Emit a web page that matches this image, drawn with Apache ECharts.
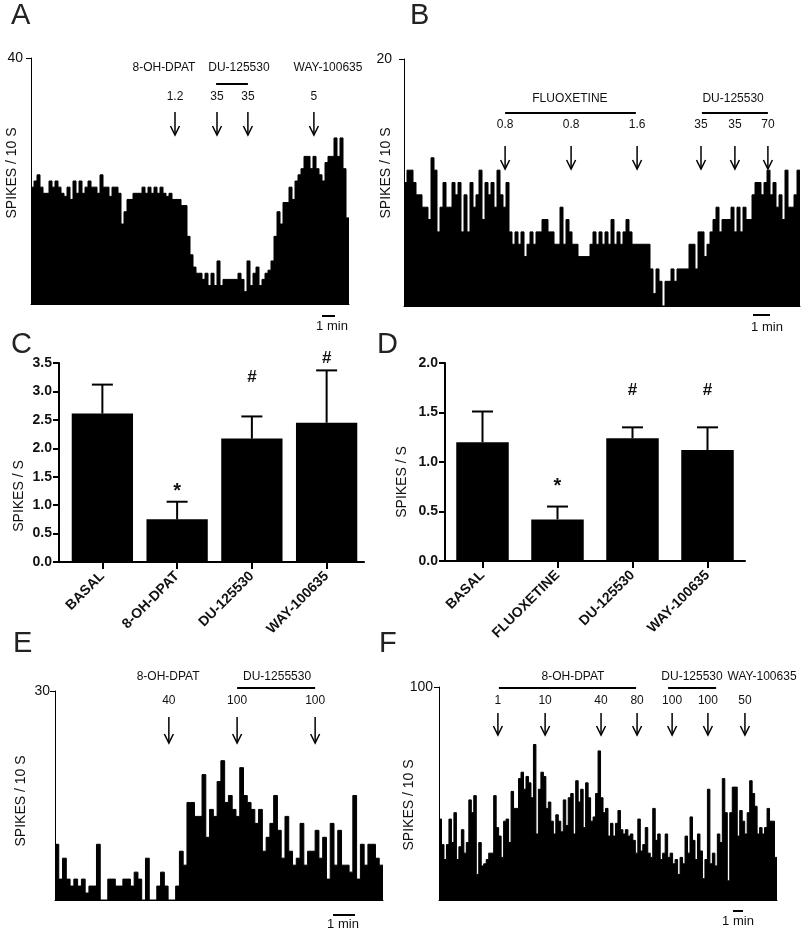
<!DOCTYPE html>
<html><head><meta charset="utf-8">
<script src="https://cdn.jsdelivr.net/npm/echarts@6/dist/echarts.min.js"></script>
<style>html,body{margin:0;padding:0;background:#fff}#c{width:806px;height:933px}</style>
</head><body><div id="c"></div>
<script>
// ---------- DATA ----------
// Panel A: spikes per 10 s bins
const spikesA = [19,20,21,19,18,18,20,19,20,19,18,17.5,19,17,20,18,20,18,19,20,
19,19,18,21,19,19,17.5,19,19,18,13,15,17,17,18,18,18,19,18,19,
18,19,18,19,18,17.5,18,17,17,17,16,16,11,8,6,5,5,4,5,3,
5,3,7,3,4,4,4,4,4,5,4,2,7,3,5,6,3,4,5,5.5,
7,11,15,13,16.5,16.5,19,17,20,21,22,24,24,22,24,22,21,20,23,24,
24,27,24,27,22,14];
const injTimesA = [48, 62, 72.3, 94.3];
const dosesA = ['1.2', '35', '35', '5'];
const drugNamesA = ['8-OH-DPAT', 'DU-125530', 'WAY-100635'];
const drugCentersA = [44.3, 69.3, 99];
const drugBarsA = [null, [61.7, 72.3], null];

// Panel B
const spikesB = [10,11,11,10,9,9,8,8,7,12,
11,6,8,10,8,8,10,9,10,6,
9,6,10,8,9,11,7,10,9,10,
8,11,9,8,10,6,5,6,5,6,
4,5,6,5,6,6,7,7,6,6,
5,5,8,5,7,6,5,5,4,4,
4,4,5,6,5,6,5,6,5,7,
5,6,5,6,7,6,5,5,5,5,
5,5,3,1,3,2,0,2,2,3,
2,3,3,3,3,5,5,3,6,6,
4,5,6,7,8,6,7,7,7,8,
6,8,6,8,7,7,9,10,10,9,
10,11,9,10,8,9,7,11,8,8,9,11];
const injTimesB = [33.7, 55.7, 77.7, 99, 110.3, 121.3];
const dosesB = ['0.8', '0.8', '1.6', '35', '35', '70'];
const drugNamesB = ['FLUOXETINE', 'DU-125530'];
const drugCentersB = [55.3, 109.7];
const drugBarsB = [[33.7, 77.3], [99.3, 121.3]];

// Panel C
const catsC = ['BASAL', '8-OH-DPAT', 'DU-125530', 'WAY-100635'];
const meanC = [2.61, 0.75, 2.17, 2.45];
const semC = [0.51, 0.31, 0.39, 0.92];
const sigC = ['', '*', '#', '#'];

// Panel D
const catsD = ['BASAL', 'FLUOXETINE', 'DU-125530', 'WAY-100635'];
const meanD = [1.20, 0.42, 1.24, 1.12];
const semD = [0.31, 0.13, 0.11, 0.23];
const sigD = ['', '*', '#', '#'];

// Panel E
const spikesE = [8,3,6,3,2,3,2,3,1,2,
2,8,0,0,3,3,2,2,3,3,
2,4,3,0,6,0,0,2,4,2,
0,0,2,7,5,14,14,12,12,18,
9,13,12,17,20,14,15,13,12,19,
15,14,13,11,13,7,9,11,15,10,
6,12,7,5,6,11,5,7,7,10,
6,9,3,11,5,10,5,5,4,15,
3,8,5,8,8,6,5];
const injTimesE = [30.2, 48.3, 69];
const dosesE = ['40', '100', '100'];
const drugNamesE = ['8-OH-DPAT', 'DU-1255530'];
const drugCentersE = [30, 58.9];
const drugBarsE = [null, [48.3, 69]];

// Panel F
const spikesF = [38,26,19,26,38,27,41,19,25,33,
22,27,47,41,49,12,27,16,17,19,
22,22,49,34,30,20,37,38,27,51,
43,43,57,60,52,58,55,48,73,31,
52,60,58,43,46,37,31,40,37,32,
47,35,48,50,31,56,46,52,34,55,
48,37,39,50,70,48,41,43,30,36,
30,36,42,33,31,33,30,31,28,22,
38,23,26,34,22,20,43,28,31,19,
22,31,20,22,17,19,12,20,17,30,
22,39,28,19,31,23,10,19,52,17,
22,16,31,27,57,41,9,41,53,53,
30,42,37,31,41,56,50,44,31,34,
31,34,43,37,37,20];
const injTimesF = [23.7, 42.7, 65.2, 79.7, 93.8, 108.2, 123.1];
const dosesF = ['1', '10', '40', '80', '100', '100', '50'];
const drugNamesF = ['8-OH-DPAT', 'DU-125530', 'WAY-100635'];
const drugCentersF = [53.9, 101.8, 130];
const drugBarsF = [[24.1, 79.3], [92.2, 111.5], null];

// ---------- LAYOUT ----------
const FONT = '"Liberation Sans", Arial, Helvetica, sans-serif';
const INK = '#111';

const hists = [
  {data: spikesA, max: 40, left: 31, top: 58, width: 318, height: 246, margin: 8,
   inj: injTimesA, doses: dosesA, names: drugNamesA, centers: drugCentersA, bars: drugBarsA,
   yName: 68, yBar: 84, yDose: 97, yArrTop: 112, yArrBot: 135,
   title: {x: 12, y: 173}, scale: {x1: 322, x2: 335, y: 316, tx: 332, ty: 326}},
  {data: spikesB, max: 20, left: 404, top: 59, width: 396, height: 247, margin: 12,
   inj: injTimesB, doses: dosesB, names: drugNamesB, centers: drugCentersB, bars: drugBarsB,
   yName: 99, yBar: 113, yDose: 125, yArrTop: 146, yArrBot: 169,
   title: {x: 386, y: 173}, scale: {x1: 753, x2: 770, y: 315, tx: 767, ty: 327}},
  {data: spikesE, max: 30, left: 55, top: 691, width: 328, height: 209, margin: 5,
   inj: injTimesE, doses: dosesE, names: drugNamesE, centers: drugCentersE, bars: drugBarsE,
   yName: 677, yBar: 688, yDose: 701, yArrTop: 717, yArrBot: 743,
   title: {x: 21, y: 801}, scale: {x1: 333, x2: 355, y: 915, tx: 343, ty: 924}},
  {data: spikesF, max: 100, left: 439, top: 687, width: 338, height: 213, margin: 6,
   inj: injTimesF, doses: dosesF, names: drugNamesF, centers: drugCentersF, bars: drugBarsF,
   yName: 677, yBar: 688, yDose: 701, yArrTop: 713, yArrBot: 735,
   title: {x: 409, y: 805}, scale: {x1: 733, x2: 743, y: 911, tx: 738, ty: 921}}
];

const barPanels = [
  {cats: catsC, mean: meanC, sem: semC, sig: sigC, max: 3.5, left: 65, top: 363, width: 299, height: 199,
   yOffset: 6, gap: '18%', sigY: [0, 491, 377, 358], title: {x: 19, y: 496}},
  {cats: catsD, mean: meanD, sem: semD, sig: sigD, max: 2.0, left: 445, top: 363, width: 300, height: 198,
   yOffset: 0, gap: '30%', sigY: [0, 486, 390, 390], title: {x: 402, y: 482}}
];

const letters = [
  {t: 'A', x: 11, y: 16}, {t: 'B', x: 410, y: 16},
  {t: 'C', x: 11, y: 345}, {t: 'D', x: 377, y: 345},
  {t: 'E', x: 13, y: 644}, {t: 'F', x: 379, y: 644}
];

// ---------- OPTION ----------
const grid = [], xAxis = [], yAxis = [], series = [];

hists.forEach((h, k) => {
  grid.push({left: h.left, top: h.top, width: h.width, height: h.height});
  xAxis.push({gridIndex: k, type: 'value', min: 0, max: h.data.length,
    axisLine: {show: true, onZero: false, lineStyle: {color: '#000', width: 1}},
    axisTick: {show: false}, axisLabel: {show: false}, splitLine: {show: false}});
  yAxis.push({gridIndex: k, type: 'value', min: 0, max: h.max, interval: h.max,
    axisLine: {show: true, lineStyle: {color: '#000', width: 1}},
    axisTick: {show: true, length: 5, lineStyle: {color: '#000'}, customValues: [h.max]},
    axisLabel: {customValues: [h.max], formatter: v => (v === h.max ? String(h.max) : ''),
      fontSize: 14, color: INK, fontFamily: FONT, margin: h.margin},
    splitLine: {show: false}});
  const pts = h.data.map((v, i) => [i, v]);
  pts.push([h.data.length, h.data[h.data.length - 1]]);
  series.push({type: 'line', xAxisIndex: k, yAxisIndex: k, data: pts, step: 'end',
    symbol: 'none', silent: true, animation: false,
    lineStyle: {color: '#000', width: 1}, areaStyle: {color: '#000', opacity: 1}});
});

barPanels.forEach((p, j) => {
  const k = hists.length + j;
  grid.push({left: p.left, top: p.top, width: p.width, height: p.height});
  xAxis.push({gridIndex: k, type: 'category', data: p.cats,
    axisLine: {show: true, lineStyle: {color: '#000', width: 2}},
    axisTick: {show: true, alignWithLabel: true, length: 7, lineStyle: {color: '#000', width: 2}},
    axisLabel: {rotate: 45, interval: 0, fontSize: 14, fontWeight: 'bold', color: INK,
      fontFamily: FONT, margin: 12}});
  yAxis.push({gridIndex: k, type: 'value', min: 0, max: p.max, interval: 0.5, offset: p.yOffset,
    axisLine: {show: true, lineStyle: {color: '#000', width: 2}},
    axisTick: {show: true, length: 6, lineStyle: {color: '#000', width: 2}},
    axisLabel: {formatter: v => v.toFixed(1), fontSize: 14, fontWeight: 'bold', color: INK,
      fontFamily: FONT, margin: 7},
    splitLine: {show: false}});
  series.push({type: 'bar', xAxisIndex: k, yAxisIndex: k, data: p.mean,
    barCategoryGap: p.gap, itemStyle: {color: '#000'}, animation: false});
  series.push({type: 'custom', xAxisIndex: k, yAxisIndex: k, animation: false, z: 5,
    data: p.mean.map((m, i) => [i, m, p.sem[i]]),
    renderItem: (params, api) => {
      const b = api.coord([api.value(0), api.value(1)]);
      const t = api.coord([api.value(0), api.value(1) + api.value(2)]);
      const hw = 10.5;
      return {type: 'group', children: [
        {type: 'line', shape: {x1: b[0], y1: b[1], x2: t[0], y2: t[1]}, style: {stroke: '#000', lineWidth: 2}},
        {type: 'line', shape: {x1: t[0] - hw, y1: t[1], x2: t[0] + hw, y2: t[1]}, style: {stroke: '#000', lineWidth: 2}}
      ]};
    }});
});

const chart = echarts.init(document.getElementById('c'), null, {renderer: 'canvas'});
chart.setOption({animation: false, backgroundColor: '#fff', grid, xAxis, yAxis, series});

// ---------- ANNOTATIONS ----------
const g = [];
function txt(text, x, y, size, opts) {
  g.push(Object.assign({type: 'text', x, y, silent: true, z: 10,
    style: Object.assign({text, fill: INK, fontSize: size, fontFamily: FONT,
      align: 'center', verticalAlign: 'middle'}, opts || {})}));
}
function ln(x1, y1, x2, y2, w) {
  g.push({type: 'line', silent: true, z: 10, shape: {x1, y1, x2, y2}, style: {stroke: '#000', lineWidth: w || 1.5}});
}
function arrow(x, y1, y2) {
  ln(x, y1, x, y2, 1.5);
  g.push({type: 'polyline', silent: true, z: 10,
    shape: {points: [[x - 4.5, y2 - 9], [x, y2], [x + 4.5, y2 - 9]]},
    style: {stroke: '#000', lineWidth: 1.5, fill: null}});
}

hists.forEach((h, k) => {
  const X = v => chart.convertToPixel({xAxisIndex: k}, v);
  h.inj.forEach((t, i) => {
    const x = X(t);
    txt(h.doses[i], x, h.yDose, 12);
    arrow(x, h.yArrTop, h.yArrBot);
  });
  h.names.forEach((n, i) => {
    txt(n, X(h.centers[i]), h.yName, 12);
    if (h.bars[i]) ln(X(h.bars[i][0]), h.yBar, X(h.bars[i][1]), h.yBar, 2);
  });
  txt('SPIKES / 10 S', h.title.x, h.title.y, 14, {});
  g[g.length - 1].rotation = Math.PI / 2;
  ln(h.scale.x1, h.scale.y, h.scale.x2, h.scale.y, 2);
  txt('1 min', h.scale.tx, h.scale.ty, 13);
});

barPanels.forEach((p, j) => {
  const k = hists.length + j;
  p.sig.forEach((s, i) => {
    if (!s) return;
    const x = chart.convertToPixel({xAxisIndex: k}, i);
    txt(s, x, p.sigY[i], s === '*' ? 20 : 17, {fontWeight: 'bold'});
  });
  txt('SPIKES / S', p.title.x, p.title.y, 14, {});
  g[g.length - 1].rotation = Math.PI / 2;
  if (p.yOffset) {
    const y0 = chart.convertToPixel({yAxisIndex: k}, 0);
    ln(p.left - p.yOffset - 1, y0, p.left, y0, 2);
  }
});

letters.forEach(L => txt(L.t, L.x, L.y, 29, {align: 'left', fill: '#222'}));

chart.setOption({graphic: g});
</script></body></html>
